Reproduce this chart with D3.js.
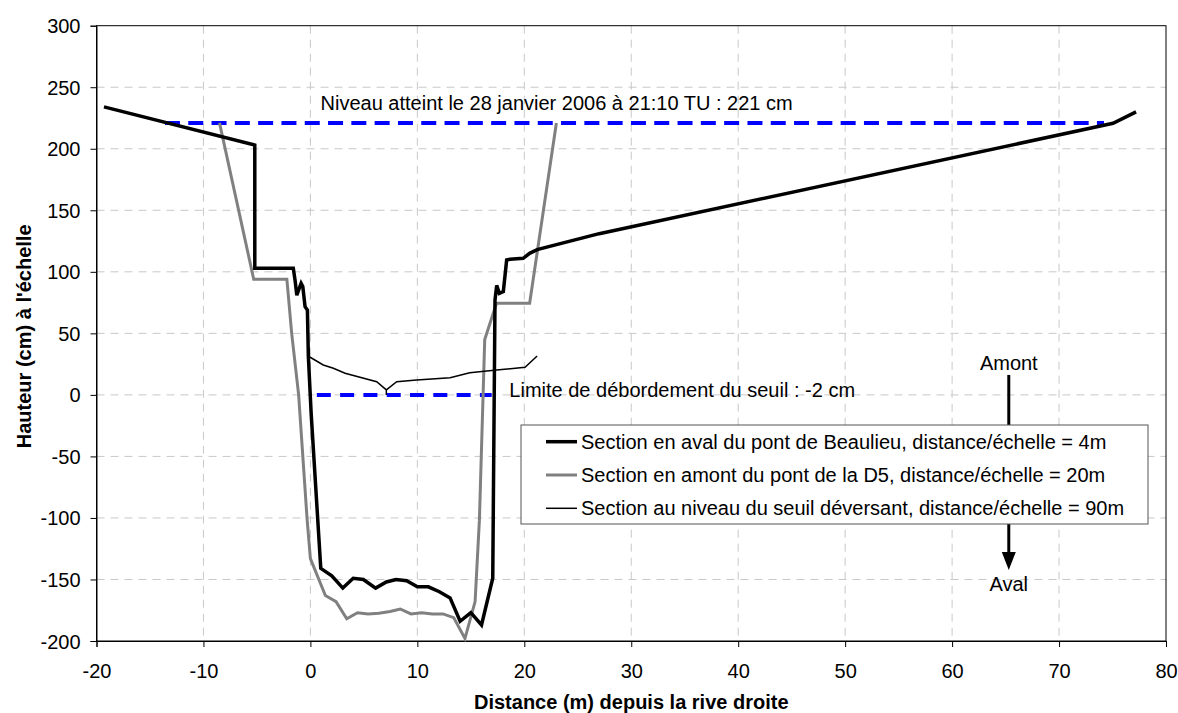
<!DOCTYPE html>
<html><head><meta charset="utf-8">
<script src="https://cdn.jsdelivr.net/npm/d3@7"></script>
<style>
body{margin:0;background:#fff;}
svg text{font-family:"Liberation Sans",Arial,sans-serif;}
</style></head>
<body><svg id="c" width="1178" height="713"></svg>
<script>
// ---- data ----
const avalX = [-19.3,-5.2,-5.2,-1.6,-1.43,-1.27,-0.87,-0.71,-0.5,-0.28,-0.19,0.07,0.97,2.0,3.03,4.0,4.95,6.1,7.1,8.0,9.0,10.0,11.03,12.06,13.06,14.0,15.0,16.0,17.05,17.26,17.42,17.66,18.04,18.35,18.66,19.9,20.5,21.2,27.0,75.05,77.2];
const avalY = [234,203,103,103,93,81,90.7,88,71.7,69,31,-15,-141,-147,-157,-149,-150,-157,-152,-150,-151,-156,-156,-160,-165,-184,-177,-187,-149,77,89,82.5,84,109.6,110.2,111,115,118,131,220.7,230];
const amontX = [-8.5,-5.3,-2.2,-1.75,-1.1,-0.3,0.0,1.4,2.4,3.4,4.4,5.4,6.4,7.45,8.4,9.4,10.4,11.4,12.4,13.4,14.45,15.4,15.8,16.3,17.4,20.5,23.0];
const amontY = [221,94,94,50,0,-102,-133,-163,-168,-182,-177,-178,-177.5,-176,-174,-178,-177,-178,-178,-181,-198,-168,-102,45,74.5,74.5,221];
const seuilX = [-0.1,1.2,2.15,3.24,6.2,7.1,7.1,7.1,8.07,9.94,13.06,14.9,17.4,20.07,21.2];
const seuilY = [31,24.3,21.6,17.6,10.7,4,0,4,10.7,12,14,18,20.2,22.4,31.6];
const niveauX = [-13.6,74.2], niveauY = 221;
const limiteX = [0.6,16.95], limiteY = 0;
const xTicks = [-20,-10,0,10,20,30,40,50,60,70,80];
const yTicks = [-200,-150,-100,-50,0,50,100,150,200,250,300];
const seriesNames = [
 "Section en aval du pont de Beaulieu, distance/échelle = 4m",
 "Section en amont du pont de la D5, distance/échelle = 20m",
 "Section au niveau du seuil déversant, distance/échelle = 90m"];
const niveauLabel = "Niveau atteint le 28 janvier 2006 à 21:10 TU : 221 cm";
const limiteLabel = "Limite de débordement du seuil : -2 cm";
const arrowX = 65.3, arrowTop = 16.2, arrowBottom = -142.3;

// ---- layout ----
const FS = 20;
const svg = d3.select("#c");
const m = {l:96.5,t:25.7,r:1166,b:641};
const x = d3.scaleLinear().domain([-20,80]).range([m.l,m.r]);
const y = d3.scaleLinear().domain([-200,300]).range([m.b,m.t]);

// grid
const g = svg.append("g");
g.selectAll(".vg").data(xTicks.slice(1,-1)).join("line")
 .attr("x1",d=>x(d)).attr("x2",d=>x(d)).attr("y1",m.t).attr("y2",m.b)
 .attr("stroke","#c8c8c8").attr("stroke-dasharray","8,6").attr("stroke-width",1);
g.selectAll(".hg").data(yTicks.slice(1,-1)).join("line")
 .attr("y1",d=>y(d)).attr("y2",d=>y(d)).attr("x1",m.l).attr("x2",m.r)
 .attr("stroke","#c8c8c8").attr("stroke-dasharray","8,6").attr("stroke-width",1);

// frame
svg.append("rect").attr("x",m.l).attr("y",m.t).attr("width",m.r-m.l).attr("height",m.b-m.t)
 .attr("fill","none").attr("stroke","#000").attr("stroke-width",1);

// axes
const fmt = d=>String(d);
const xa = svg.append("g").attr("transform",`translate(0,${m.b})`)
 .call(d3.axisBottom(x).tickValues(xTicks).tickSize(6).tickPadding(17).tickFormat(fmt));
const ya = svg.append("g").attr("transform",`translate(${m.l},0)`)
 .call(d3.axisLeft(y).tickValues(yTicks).tickSize(6).tickPadding(10).tickFormat(fmt));
[xa,ya].forEach(a=>{a.select(".domain").attr("stroke","#000");
 a.selectAll("text").attr("font-size",FS).attr("fill","#000")
  .style("font-family","'Liberation Sans',Arial,sans-serif");
 a.selectAll(".tick line").attr("stroke","#000");});
ya.selectAll("text").attr("dy","0.35em");

// axis titles
svg.append("text").attr("x",(m.l+m.r)/2).attr("y",709).attr("text-anchor","middle")
 .attr("font-size",FS).attr("font-weight","bold").text("Distance (m) depuis la rive droite");
svg.append("text").attr("transform",`translate(31,${(m.t+m.b)/2+3}) rotate(-90)`).attr("text-anchor","middle")
 .attr("font-size",FS).attr("font-weight","bold").text("Hauteur (cm) à l'échelle");

// reference dashed lines
const line = d3.line().x(d=>x(d[0])).y(d=>y(d[1]));
svg.append("path").attr("d",line(niveauX.map(v=>[v,niveauY])))
 .attr("stroke","#0000ff").attr("stroke-width",4).attr("stroke-dasharray","15,8.3").attr("fill","none");
svg.append("path").attr("d",line(limiteX.map(v=>[v,limiteY])))
 .attr("stroke","#0000ff").attr("stroke-width",4).attr("stroke-dasharray","14,9.3").attr("fill","none");

// series
const series = [
 {xs:avalX, ys:avalY, color:"#000", w:3.5},
 {xs:amontX, ys:amontY, color:"#808080", w:3},
 {xs:seuilX, ys:seuilY, color:"#000", w:1.5}];
[1,0,2].forEach(i=>{
 const s = series[i];
 svg.append("path").attr("d",line(s.xs.map((v,j)=>[v,s.ys[j]])))
  .attr("fill","none").attr("stroke",s.color).attr("stroke-width",s.w).attr("stroke-linejoin","miter").attr("stroke-miterlimit",3);
});

// annotations
svg.append("text").attr("x",x(0.95)).attr("y",y(221)-13).attr("font-size",FS).text(niveauLabel);
svg.append("text").attr("x",x(18.6)).attr("y",y(0)+2).attr("font-size",FS).text(limiteLabel);

// amont / aval arrow
svg.append("line").attr("x1",x(arrowX)).attr("x2",x(arrowX)).attr("y1",y(arrowTop)).attr("y2",y(arrowBottom)-18)
 .attr("stroke","#000").attr("stroke-width",3);
const ab = y(arrowBottom);
svg.append("path").attr("d",`M${x(arrowX)-7},${ab-18}L${x(arrowX)+7},${ab-18}L${x(arrowX)},${ab}Z`).attr("fill","#000");
svg.append("text").attr("x",x(arrowX)).attr("y",y(arrowTop)-5).attr("text-anchor","middle").attr("font-size",FS).text("Amont");
svg.append("text").attr("x",x(arrowX)).attr("y",ab+21).attr("text-anchor","middle").attr("font-size",FS).text("Aval");

// legend
const lg = svg.append("g");
lg.append("rect").attr("x",521).attr("y",425).attr("width",627).attr("height",99)
 .attr("fill","#fff").attr("stroke","#555").attr("stroke-width",1);
seriesNames.forEach((n,i)=>{
 const yy = 441.7 + i*33.3;
 lg.append("line").attr("x1",546).attr("x2",577).attr("y1",yy).attr("y2",yy)
  .attr("stroke",series[i].color).attr("stroke-width",series[i].w);
 lg.append("text").attr("x",581).attr("y",yy).attr("dy","0.35em").attr("font-size",FS).text(n);
});
</script></body></html>
